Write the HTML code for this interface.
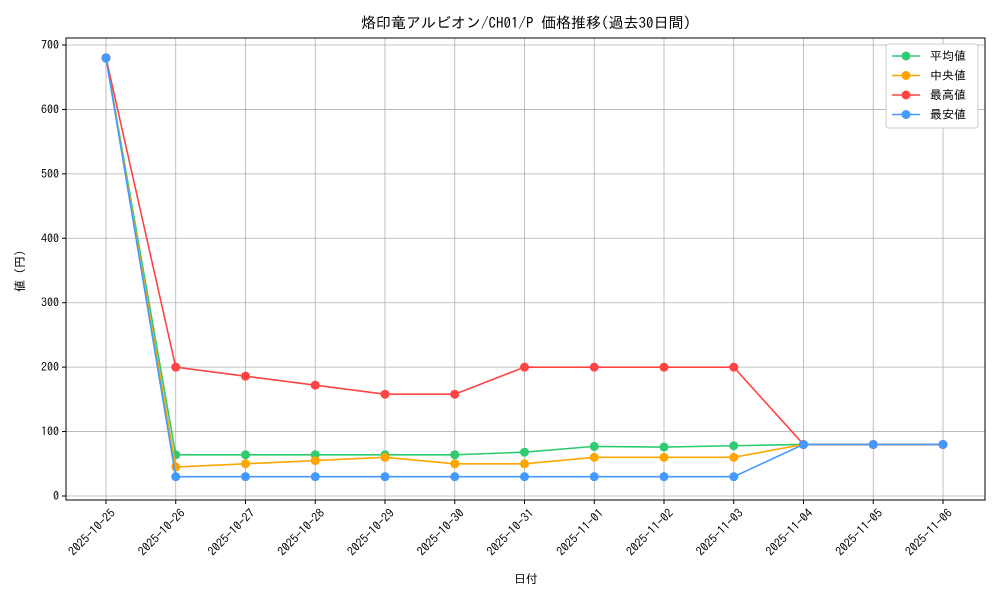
<!DOCTYPE html>
<html><head><meta charset="utf-8"><style>
body{margin:0;background:#fff}
svg text{font-family:"IPAGothic","Noto Sans CJK JP",monospace;fill:#000}
</style></head><body>
<svg id="chart" width="1000" height="600" xmlns="http://www.w3.org/2000/svg">
<text x="526" y="28" font-size="15" text-anchor="middle">烙印竜アルビオン/CH01/P 価格推移(過去30日間)</text>
<g id="grid"></g><g id="axes"></g><g id="series"></g>
<text x="526" y="583" font-size="12" text-anchor="middle">日付</text>
<text transform="translate(24,271) rotate(-90)" font-size="12" text-anchor="middle">値 (円)</text>
<g id="legend"></g>
</svg>
<script>
const categories=["2025-10-25","2025-10-26","2025-10-27","2025-10-28","2025-10-29","2025-10-30","2025-10-31","2025-11-01","2025-11-02","2025-11-03","2025-11-04","2025-11-05","2025-11-06"];
const avgValues=[680,64,64,64,64,64,68,77,76,78,80,80,80];
const medianValues=[680,45,50,55,60,50,50,60,60,60,80,80,80];
const maxValues=[680,200,186,172,158,158,200,200,200,200,80,80,80];
const minValues=[680,30,30,30,30,30,30,30,30,30,80,80,80];
const yTicks=[0,100,200,300,400,500,600,700];
const seriesNames=["平均値","中央値","最高値","最安値"];
const NS="http://www.w3.org/2000/svg";
const L=66,R=985,T=38,B=500;
const x=i=>106+i*(943-106)/(categories.length-1);
const y=v=>496-v*(496-45)/700;
function mk(tag,attrs,parent){const e=document.createElementNS(NS,tag);for(const k in attrs)e.setAttribute(k,attrs[k]);parent.appendChild(e);return e;}
const grid=document.getElementById('grid'),axes=document.getElementById('axes'),ser=document.getElementById('series'),leg=document.getElementById('legend');
categories.forEach((c,i)=>{
 const g=mk('line',{x1:x(i),x2:x(i),y1:T,y2:B,stroke:'#b0b0b0','stroke-width':0.8},grid);
 
 
 mk('line',{x1:x(i),x2:x(i),y1:B,y2:B+4,stroke:'#000'},axes);
 const t=mk('text',{x:x(i)+4,y:B+8,'font-size':12,'text-anchor':'end',transform:`rotate(-45 ${x(i)+4} ${B+8})`},axes);
 
 
 t.setAttribute('dy','0.7em');
 t.textContent=c;
});
yTicks.forEach(v=>{
 const g=mk('line',{x1:L,x2:R,y1:y(v),y2:y(v),stroke:'#b0b0b0','stroke-width':0.8},grid);
 
 
 mk('line',{x1:L-4,x2:L,y1:y(v),y2:y(v),stroke:'#000'},axes);
 const t=mk('text',{x:L-7,y:y(v)+4,'font-size':12,'text-anchor':'end'},axes);
 
 
 t.textContent=v;
});
const fr=mk('rect',{x:L,y:T,width:R-L,height:B-T,fill:'none',stroke:'#000','stroke-width':1},axes);


const data=[avgValues,medianValues,maxValues,minValues];
const colors=['#2ecc71','#ffa500','#ff4444','#4499ff'];
data.forEach((vals,s)=>{
 const p=mk('polyline',{points:vals.map((v,i)=>x(i)+','+y(v)).join(' '),fill:'none',stroke:colors[s],'stroke-width':1.6},ser);
 
 
 vals.forEach((v,i)=>{
  const c=mk('circle',{cx:x(i),cy:y(v),r:4.5,fill:colors[s]},ser);
  
  
 });
});
const lb=mk('rect',{x:886,y:44,width:92,height:84,fill:'#fff',stroke:'#ccc',rx:3},leg);


seriesNames.forEach((n,s)=>{
 const yy=56+s*19.5;
 const g=mk('g',{},leg);
 
 
 mk('line',{x1:892,x2:920,y1:yy,y2:yy,stroke:colors[s],'stroke-width':1.6},g);
 mk('circle',{cx:906,cy:yy,r:4.5,fill:colors[s]},g);
 const t=mk('text',{x:930,y:yy+4,'font-size':12},g);
 t.textContent=n;
});
</script>
</body></html>
